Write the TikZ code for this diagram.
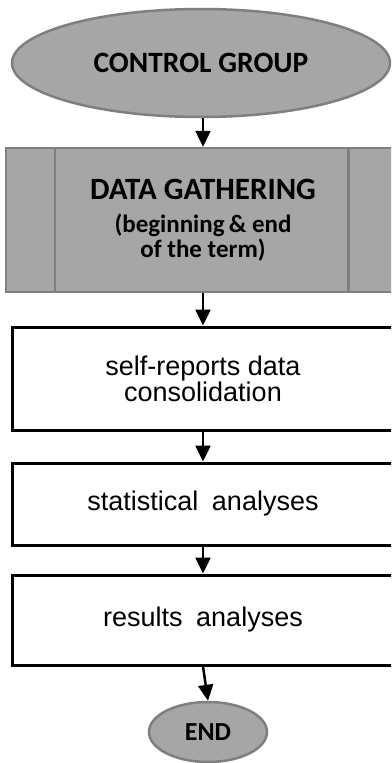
\documentclass[tikz,border=0pt]{standalone}
\usepackage{fontspec}
\newfontfamily\headfont{Carlito}
\newfontfamily\bodyfont{Liberation Sans}
\usepackage{xcolor}
\definecolor{shadefill}{HTML}{A6A6A6}
\definecolor{shadeborder}{HTML}{7F7F7F}
\usetikzlibrary{positioning,arrows.meta,shapes.geometric}
\tikzset{
    terminal/.style={
        ellipse,
        draw=shadeborder,
        fill=shadefill,
        line width=2.5pt,
        inner sep=0pt,
        font=\headfont\bfseries,
    },
    gatherbox/.style={
        rectangle,
        draw=shadeborder,
        fill=shadefill,
        line width=2.5pt,
        inner sep=0pt,
        align=center,
        font=\headfont\bfseries\fontsize{25}{25}\selectfont,
    },
    stepbox/.style={
        rectangle,
        draw=black,
        fill=white,
        line width=3pt,
        minimum width=382pt,
        inner sep=0pt,
        align=center,
        font=\bodyfont\fontsize{27}{26}\selectfont,
    },
    flow/.style={
        -{Triangle[width=15pt,length=16pt]},
        line width=2.5pt,
        black,
    },
}
\begin{document}
\begin{tikzpicture}[x=1pt,y=-1pt]
    \clip (0,0) rectangle (391,763);
    \fill[white] (0,0) rectangle (391,763);

    \node[terminal, minimum width=378pt, minimum height=108pt, font=\headfont\bfseries\fontsize{29.5}{30}\selectfont] (start) at (201,63) {CONTROL GROUP};

    \node[gatherbox, minimum width=394pt, minimum height=144pt] (gather) at (203,220)
        {{\fontsize{31}{25}\selectfont DATA GATHERING}\\[8pt]
         (beginning\,\& end\\
         of the term)};
    % side bars of the predefined process
    \draw[draw=shadeborder, line width=2.5pt] ([xshift=50pt]gather.north west) -- ([xshift=50pt]gather.south west);
    \draw[draw=shadeborder, line width=2.5pt] ([xshift=-53pt]gather.north east) -- ([xshift=-53pt]gather.south east);

    \node[stepbox, minimum height=103pt] (consol) at (203,378.5) {self-reports data\\consolidation};
    \node[stepbox, minimum height=82pt] (stats) at (203,504) {statistical\hspace{0.5em}analyses};
    \node[stepbox, minimum height=90pt] (results) at (203,620) {results\hspace{0.5em}analyses};

    \node[terminal, minimum width=118pt, minimum height=60pt, font=\headfont\bfseries\fontsize{26}{26}\selectfont] (finish) at (208,732) {END};

    \draw[flow] (start.south -| gather.north) -- (gather.north);
    \draw[flow] (gather.south) -- (consol.north);
    \draw[flow] (consol.south) -- (stats.north);
    \draw[flow] (stats.south) -- (results.north);
    \draw[flow] (results.south) -- (finish.north);
\end{tikzpicture}
\end{document}
